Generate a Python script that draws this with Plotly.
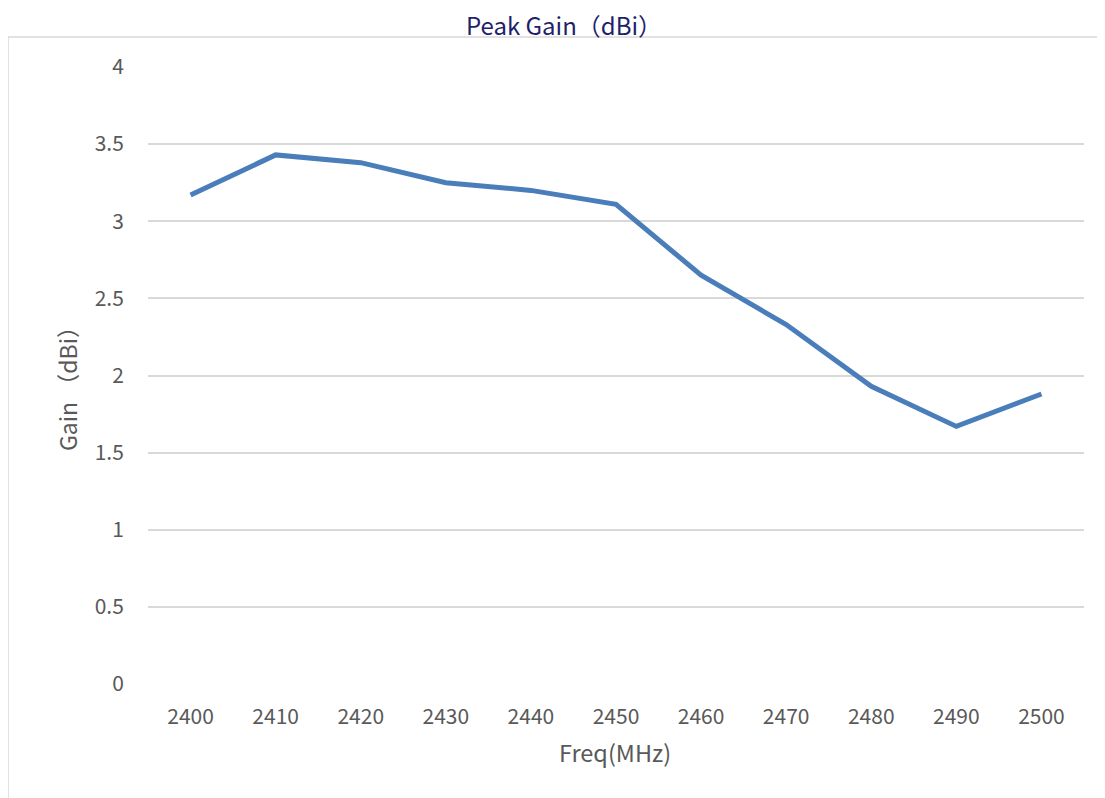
import plotly.graph_objects as go

freq = ["2400", "2410", "2420", "2430", "2440", "2450", "2460", "2470", "2480", "2490", "2500"]
gain = [3.17, 3.43, 3.38, 3.25, 3.20, 3.11, 2.65, 2.33, 1.93, 1.67, 1.88]
y_ticks = [0, 0.5, 1, 1.5, 2, 2.5, 3, 3.5, 4]
y_labels = ["0", "0.5", "1", "1.5", "2", "2.5", "3", "3.5", "4"]

FONT = "Noto Sans CJK SC, Noto Sans, sans-serif"
OFF = 8  # page body margin
PW, PH = 1105, 798          # page size
W, H = PW - OFF, PH - OFF   # figure size
# plot area in page pixels
PL, PR, PT, PB = 148, 1084, 67, 684
L, T = PL - OFF, PT - OFF
R, B = W - (PR - OFF), H - (PB - OFF)
pw, ph = W - L - R, H - T - B

def px_x(p):
    return (p - OFF - L) / pw

def px_y(p):
    return (H - B - (p - OFF)) / ph

fig = go.Figure()
fig.add_trace(go.Scatter(
    x=freq, y=gain, mode="lines",
    line=dict(color="#4a7ebb", width=5),
    hoverinfo="x+y", showlegend=False,
))

fig.update_layout(
    width=W, height=H,
    margin=dict(l=L, r=R, t=T, b=B),
    paper_bgcolor="white", plot_bgcolor="white",
    font=dict(family=FONT, color="#595959", size=21),
    title=dict(text="Peak Gain（dBi）", x=(564 - OFF) / W, xanchor="center",
               y=1 - (27 - OFF) / H, yanchor="middle", xref="container", yref="container",
               font=dict(family=FONT, size=24, color="#1f1f6b")),
    xaxis=dict(type="category", showgrid=False, zeroline=False, showline=False,
               ticks="outside", ticklen=14, tickcolor="rgba(0,0,0,0)",
               tickfont=dict(size=21, color="#595959"), range=[-0.5, 10.5]),
    yaxis=dict(range=[0, 4], tickvals=y_ticks, ticktext=y_labels,
               showgrid=True, gridcolor="#d9d9d9", gridwidth=1.5,
               zeroline=False, showline=False,
               ticks="outside", ticklen=19, tickcolor="rgba(0,0,0,0)",
               tickfont=dict(size=21, color="#595959")),
    shapes=[dict(type="rect", xref="paper", yref="paper",
                 x0=px_x(8), x1=px_x(1112), y0=px_y(812), y1=px_y(37),
                 line=dict(color="#d9d9d9", width=1.5), layer="below")],
    annotations=[
        dict(text="Freq(MHz)", xref="paper", yref="paper", x=px_x(615), y=px_y(752),
             xanchor="center", yanchor="middle", showarrow=False,
             font=dict(family=FONT, size=23.5, color="#595959")),
        dict(text="Gain （dBi）", xref="paper", yref="paper", x=px_x(67), y=px_y(383),
             xanchor="center", yanchor="middle", showarrow=False, textangle=-90,
             font=dict(family=FONT, size=23, color="#595959")),
    ],
)

fig.write_html("out.html")
